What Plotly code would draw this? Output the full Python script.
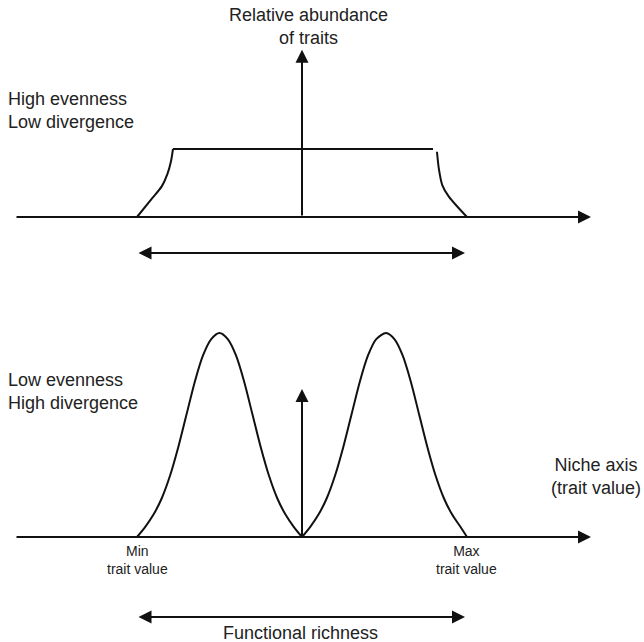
import plotly.graph_objects as go

# ---------------- data (trait axis: Min = 0, Max = 10) ----------------
TRAIT_MIN = 0
TRAIT_MAX = 10
TRAIT_MID = 5

# Top panel: high evenness / low divergence (relative abundance, plateau = 1)
top_left_x = [0, 0.45, 0.75, 0.92, 1.03, 1.09]
top_left_y = [0, 0.27, 0.45, 0.63, 0.82, 1.0]
top_plateau_x = [1.09, 8.97]
top_plateau_y = [1.0, 1.0]
top_right_x = [9.09, 9.15, 9.25, 9.45, 10]
top_right_y = [0.96, 0.7, 0.47, 0.3, 0]

# Bottom panel: low evenness / high divergence (two bumps, peak = 1)
bump1_x = [0, 0.25, 0.5, 0.75, 1, 1.25, 1.5, 1.75, 2, 2.25, 2.5,
           2.75, 3, 3.25, 3.5, 3.75, 4, 4.25, 4.5, 4.75, 5]
bump1_y = [0, 0.05, 0.11, 0.19, 0.3, 0.44, 0.6, 0.76, 0.89, 0.97, 1,
           0.97, 0.89, 0.76, 0.6, 0.44, 0.3, 0.19, 0.11, 0.05, 0]
bump2_x = [5, 5.25, 5.5, 5.75, 6, 6.25, 6.5, 6.75, 7, 7.25, 7.55,
           7.8, 8.05, 8.3, 8.55, 8.8, 9.05, 9.3, 9.55, 9.8, 10]
bump2_y = [0, 0.05, 0.11, 0.19, 0.3, 0.44, 0.6, 0.76, 0.89, 0.97, 1,
           0.97, 0.89, 0.76, 0.6, 0.44, 0.3, 0.19, 0.11, 0.05, 0]

TOP_AXIS_HEIGHT = 2.46      # height of the vertical abundance arrow (top)
BOTTOM_AXIS_HEIGHT = 0.725  # height of the vertical abundance arrow (bottom)

# ---------------- layout helpers (pixel geometry) ----------------
W, H = 644, 642
X0_PX, XS = 137, 33.0            # px of trait 0, px per trait unit
B1, S1 = 217, 68.0               # top baseline px, px per unit
B2, S2 = 537, 204.0              # bottom baseline px, px per unit
SPLIT = 320                      # px where panels split

def ux(px):
    return (px - X0_PX) / XS

def py(p):
    return 1 - p / H

xr = [ux(0), ux(W)]
LINE = dict(color="#111111", width=2)

fig = go.Figure()
for xs, ys, shape in [(top_left_x, top_left_y, "spline"),
                      (top_plateau_x, top_plateau_y, "linear"),
                      (top_right_x, top_right_y, "spline")]:
    fig.add_trace(go.Scatter(x=xs, y=ys, mode="lines", xaxis="x", yaxis="y",
                             line=dict(LINE, shape=shape, smoothing=0.8),
                             hoverinfo="skip", showlegend=False))
for xs, ys in [(bump1_x, bump1_y), (bump2_x, bump2_y)]:
    fig.add_trace(go.Scatter(x=xs, y=ys, mode="lines", xaxis="x2", yaxis="y2",
                             line=dict(LINE, shape="spline", smoothing=0.8),
                             hoverinfo="skip", showlegend=False))

ax_common = dict(visible=False, range=xr, fixedrange=True)
fig.update_layout(
    width=W, height=H,
    margin=dict(l=0, r=0, t=0, b=0),
    paper_bgcolor="white", plot_bgcolor="white",
    font=dict(family="Liberation Sans, Arial, sans-serif", size=18, color="#222222"),
    showlegend=False,
    xaxis=dict(ax_common, anchor="y", domain=[0, 1]),
    xaxis2=dict(ax_common, anchor="y2", domain=[0, 1]),
    yaxis=dict(visible=False, fixedrange=True, anchor="x",
               domain=[py(SPLIT), 1],
               range=[(B1 - SPLIT) / S1, B1 / S1]),
    yaxis2=dict(visible=False, fixedrange=True, anchor="x2",
                domain=[0, py(SPLIT)],
                range=[(B2 - H) / S2, (B2 - SPLIT) / S2]),
)

def arrow(xref, yref, x, y, ax, ay, both=False):
    fig.add_annotation(xref=xref, yref=yref, axref=xref, ayref=yref,
                       x=x, y=y, ax=ax, ay=ay, text="", showarrow=True,
                       arrowhead=2, startarrowhead=2, arrowsize=1.3,
                       startarrowsize=1.3, arrowwidth=2, arrowcolor="#111111",
                       arrowside="end+start" if both else "end",
                       standoff=0, startstandoff=0)

# top panel axes
arrow("x", "y", ux(591), 0, ux(15), 0)
arrow("x", "y", TRAIT_MID, TOP_AXIS_HEIGHT, TRAIT_MID, 0)
arrow("x", "y", ux(465), (B1 - 253) / S1, TRAIT_MIN, (B1 - 253) / S1, both=True)
# bottom panel axes
arrow("x2", "y2", ux(591), 0, ux(15), 0)
arrow("x2", "y2", TRAIT_MID, BOTTOM_AXIS_HEIGHT, TRAIT_MID, 0)
arrow("x2", "y2", ux(465), (B2 - 617) / S2, TRAIT_MIN, (B2 - 617) / S2, both=True)

def label(text, xpx, ypx, xanchor="center", size=18):
    fig.add_annotation(xref="paper", yref="paper", x=xpx / W, y=py(ypx),
                       text=text, showarrow=False, xanchor=xanchor,
                       yanchor="middle", align=xanchor if xanchor != "center" else "center",
                       font=dict(size=size))

label("Relative abundance<br>of traits", 308, 27)
label("High evenness<br>Low divergence", 6, 111, xanchor="left")
label("Low evenness<br>High divergence", 6, 391, xanchor="left")
label("Niche axis<br>(trait value)", 596, 476)
label("Min<br>trait value", X0_PX, 560, size=14)
label("Max<br>trait value", 466, 560, size=14)
label("Functional richness", 300, 633)

fig.write_html(
    "out.html",
    config={"displayModeBar": False},
    post_script="document.body.style.margin='0px';"
                "document.body.style.overflow='hidden';",
)
